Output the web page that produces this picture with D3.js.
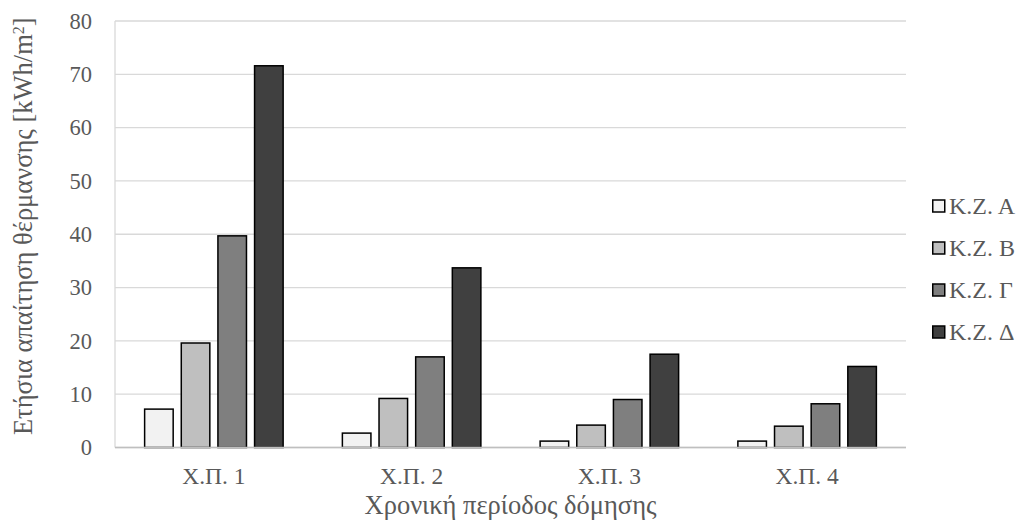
<!DOCTYPE html>
<html>
<head>
<meta charset="utf-8">
<script src="https://cdn.jsdelivr.net/npm/d3@7"></script>
<style>
  body { margin: 0; background: #fff; }
  svg { display: block; font-family: "Liberation Serif", "DejaVu Serif", serif; }
</style>
</head>
<body>
<svg id="chart" width="1021" height="527"></svg>
<script>
// data
const categories = ['Χ.Π. 1', 'Χ.Π. 2', 'Χ.Π. 3', 'Χ.Π. 4'];
const seriesNames = ['K.Z. A', 'K.Z. B', 'K.Z. Γ', 'K.Z. Δ'];
const seriesColors = ['#f2f2f2', '#bfbfbf', '#7f7f7f', '#404040'];
const kzA = [7.2, 2.7, 1.2, 1.2];
const kzB = [19.6, 9.2, 4.2, 4.0];
const kzG = [39.7, 17.0, 9.0, 8.2];
const kzD = [71.6, 33.7, 17.5, 15.2];
const yTicks = [0, 10, 20, 30, 40, 50, 60, 70, 80];

const seriesValues = [kzA, kzB, kzG, kzD];

const margin = { top: 21, right: 115, bottom: 79.5, left: 115 };
const width = 1021;
const height = 527;
const plotW = width - margin.left - margin.right;
const plotH = height - margin.top - margin.bottom;
const textColor = '#595959';

const svg = d3.select('#chart');
const g = svg.append('g')
  .attr('transform', `translate(${margin.left},${margin.top})`);

// scales
const x0 = d3.scaleBand()
  .domain(categories)
  .range([0, plotW])
  .padding(0);

const groupW = 140;
const x1 = d3.scaleBand()
  .domain(seriesNames)
  .range([(x0.bandwidth() - groupW) / 2, (x0.bandwidth() + groupW) / 2])
  .paddingInner(0.18);

const y = d3.scaleLinear()
  .domain([0, 80])
  .range([plotH, 0]);

// gridlines
g.append('g')
  .selectAll('line')
  .data(yTicks)
  .enter().append('line')
  .attr('x1', 0)
  .attr('x2', plotW)
  .attr('y1', d => y(d))
  .attr('y2', d => y(d))
  .attr('stroke', '#d9d9d9')
  .attr('stroke-width', 1.3);

// left axis line
g.append('line')
  .attr('x1', 0).attr('x2', 0)
  .attr('y1', 0).attr('y2', plotH)
  .attr('stroke', '#d9d9d9')
  .attr('stroke-width', 1.3);

// y tick labels
const yAxis = g.append('g')
  .call(d3.axisLeft(y).tickValues(yTicks).tickSize(0).tickPadding(23));
yAxis.select('.domain').remove();
yAxis.selectAll('text')
  .attr('fill', textColor)
  .style('font-size', '22.5px')
  .style('font-family', '"Liberation Serif", serif');

// bars
const rows = categories.map((c, i) => ({
  cat: c,
  vals: seriesNames.map((s, j) => ({ s, j, v: seriesValues[j][i] }))
}));

const groups = g.selectAll('.grp')
  .data(rows)
  .enter().append('g')
  .attr('class', 'grp')
  .attr('transform', d => `translate(${x0(d.cat)},0)`);

groups.selectAll('rect')
  .data(d => d.vals)
  .enter().append('rect')
  .attr('x', d => x1(d.s) + 0.75)
  .attr('y', d => y(d.v))
  .attr('width', x1.bandwidth() - 1.5)
  .attr('height', d => y(0) - y(d.v))
  .attr('fill', d => seriesColors[d.j])
  .attr('stroke', '#000')
  .attr('stroke-width', 1.5);

// baseline
g.append('line')
  .attr('x1', 0).attr('x2', plotW)
  .attr('y1', y(0)).attr('y2', y(0))
  .attr('stroke', '#bfbfbf')
  .attr('stroke-width', 1.3);

// x tick labels
const xAxis = g.append('g')
  .attr('transform', `translate(0,${plotH})`)
  .call(d3.axisBottom(x0).tickSize(0).tickPadding(20));
xAxis.select('.domain').remove();
xAxis.selectAll('text')
  .attr('fill', textColor)
  .style('font-size', '23.5px')
  .style('font-family', '"Liberation Serif", serif');

// axis titles
svg.append('text')
  .attr('x', margin.left + plotW / 2)
  .attr('y', 514)
  .attr('text-anchor', 'middle')
  .attr('fill', textColor)
  .style('font-size', '26.5px')
  .text('Χρονική περίοδος δόμησης');

const yTitle = svg.append('text')
  .attr('transform', `translate(32,${margin.top + plotH / 2 - 8}) rotate(-90)`)
  .attr('text-anchor', 'middle')
  .attr('fill', textColor)
  .style('font-size', '26.5px');
yTitle.append('tspan').text('Ετήσια απαίτηση θέρμανσης [kWh/m');
yTitle.append('tspan').attr('baseline-shift', 'super').style('font-size', '16px').text('2');
yTitle.append('tspan').text(']');

// legend
const legend = svg.append('g')
  .attr('transform', `translate(932,206)`);

const items = legend.selectAll('.item')
  .data(seriesNames)
  .enter().append('g')
  .attr('class', 'item')
  .attr('transform', (d, i) => `translate(0,${i * 42})`);

items.append('rect')
  .attr('x', 0.75)
  .attr('y', -6)
  .attr('width', 12)
  .attr('height', 12)
  .attr('fill', (d, i) => seriesColors[i])
  .attr('stroke', '#000')
  .attr('stroke-width', 1.5);

items.append('text')
  .attr('x', 17)
  .attr('y', 8)
  .attr('fill', textColor)
  .style('font-size', '24px')
  .text(d => d);
</script>
</body>
</html>
